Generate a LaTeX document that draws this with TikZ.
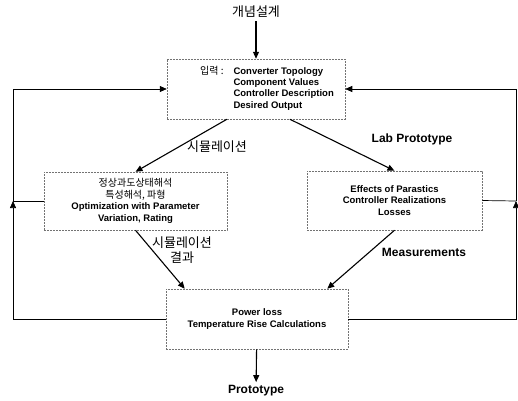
\documentclass[tikz,border=0pt]{standalone}
\usepackage{fontspec}
\setmainfont{Liberation Sans}
\newfontfamily\kr{Noto Sans CJK KR}
\usepackage{tikz}
\usetikzlibrary{calc,arrows.meta}
\tikzset{
  box/.style={draw=black!55, line width=0.5pt, dash pattern=on 2pt off 1pt,
    align=center, font=\fontsize{9.5}{11.6}\selectfont\bfseries, inner sep=0pt},
  flow/.style={draw=black, line width=1.1pt, -{Triangle[length=7pt,width=6pt]}},
  back/.style={draw=black, line width=0.7pt},
  backtip/.style={back, -{Triangle[length=7pt,width=6pt]}},
  lab/.style={font=\fontsize{12}{14}\selectfont\bfseries, align=center},
  klab/.style={font=\kr\fontsize{13}{15}\selectfont, align=center},
}
\newcommand\krbox[1]{{\kr\mdseries\fontsize{10}{11.6}\selectfont #1}}
\begin{document}
\begin{tikzpicture}[x=1pt,y=-1pt]
  \useasboundingbox (0,0) rectangle (518,400);
  % boxes
  \node[box, minimum width=178pt, minimum height=60pt] (input) at (256,89)
    {\renewcommand\arraystretch{0.95}%
     \begin{tabular}{@{\hspace{22pt}}l@{\hspace{10pt}}l@{}}
      \krbox{입력 :} & Converter Topology\\
      & Component Values\\
      & Controller Description\\
      & Desired Output
    \end{tabular}};
  \node[box, minimum width=183pt, minimum height=58pt] (sim) at (135.5,201)
    {\krbox{정상과도상태해석}\\ \krbox{특성해석, 파형}\\
     Optimization with Parameter\\ Variation, Rating};
  \node[box, minimum width=175pt, minimum height=59pt] (lab) at (394.5,200.5)
    {Effects of Parastics\\ Controller Realizations\\ Losses};
  \node[box, minimum width=182pt, minimum height=60pt] (loss) at (257,319)
    {Power loss\\ Temperature Rise Calculations};
  \node[klab] (concept) at (256,12) {개념설계};
  \node[lab] (proto) at (256,391) {Prototype};
  % forward flow
  \draw[flow] (concept) -- (input);
  \draw[flow] ($(input.south west)!0.337!(input.south east)$) -- (sim.north);
  \draw[flow] ($(input.south west)!0.69!(input.south east)$) -- (lab.north);
  \draw[flow] (sim.south) -- ($(loss.north west)!0.104!(loss.north east)$);
  \draw[flow] (lab.south) -- ($(loss.north west)!0.885!(loss.north east)$);
  \draw[flow] (loss) -- (proto);
  \node[klab] (simlab) at (217,147) {시뮬레이션};
  \node[lab] (lablab) at (412,139) {Lab Prototype};
  \node[klab] (reslab) at (182,250) {시뮬레이션\\결과};
  \node[lab] (measlab) at (424,252) {Measurements};
  % feedback loops
  \coordinate (lj) at (13,201);
  \coordinate (rj) at (516,201);
  \draw[backtip] (loss.west) -| (lj);
  \draw[back] (sim.west) -- (lj);
  \draw[backtip] (lj) |- (input.west);
  \draw[backtip] (loss.east) -| (rj);
  \draw[back] (lab.east) -- (rj);
  \draw[backtip] (rj) |- (input.east);
\end{tikzpicture}
\end{document}
